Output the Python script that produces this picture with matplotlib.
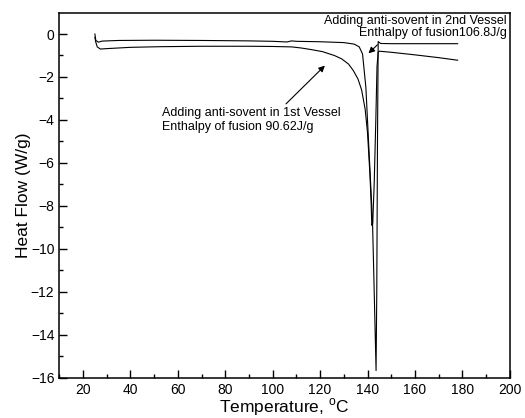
import matplotlib
matplotlib.use('Agg')
import matplotlib.pyplot as plt
from matplotlib.ticker import MultipleLocator

plt.rcParams['font.family'] = ['Liberation Sans', 'DejaVu Sans']

# DSC curve, anti-solvent added in 1st vessel
T1 = [25.0, 25.3, 26.0, 27.3, 30, 40, 52.7, 70, 90, 100, 108, 112, 116, 121,
      126, 129, 132, 134, 136, 137.5, 139, 140, 141, 141.5, 141.8, 142.2,
      142.8, 143.5, 144.0, 144.5, 145, 150, 160, 170, 178]
Y1 = [-0.15, -0.35, -0.6, -0.7, -0.68, -0.62, -0.59, -0.57, -0.57, -0.58,
      -0.6, -0.65, -0.72, -0.82, -1.0, -1.15, -1.4, -1.7, -2.1, -2.6, -3.5,
      -4.6, -6.5, -7.8, -8.9, -8.8, -7.0, -4.0, -1.5, -0.85, -0.8, -0.85,
      -0.97, -1.1, -1.22]

# DSC curve, anti-solvent added in 2nd vessel
T2 = [25.0, 25.4, 26.5, 28, 35, 50, 70, 90, 100, 106, 108, 110, 120, 130,
      134.4, 136.5, 137.9, 139.3, 140.7, 142.1, 143.1, 143.6, 143.9, 144.2,
      144.5, 145.5, 150, 160, 170, 178]
Y2 = [0.0, -0.3, -0.38, -0.33, -0.3, -0.29, -0.3, -0.32, -0.34, -0.37, -0.32,
      -0.34, -0.36, -0.4, -0.47, -0.6, -0.93, -2.48, -5.6, -8.7, -13.3,
      -15.66, -12.0, -5.0, -0.35, -0.44, -0.45, -0.45, -0.45, -0.45]

fig = plt.figure(figsize=(5.25, 4.18), dpi=100)
ax = fig.add_axes([0.113, 0.096, 0.858, 0.872])

ax.plot(T1, Y1, color='black', lw=0.8)
ax.plot(T2, Y2, color='black', lw=0.8)

ax.set_xlim(10, 200)
ax.set_ylim(-16, 0.96)
ax.xaxis.set_major_locator(MultipleLocator(20))
ax.xaxis.set_minor_locator(MultipleLocator(10))
ax.yaxis.set_major_locator(MultipleLocator(2))
ax.yaxis.set_minor_locator(MultipleLocator(1))
ax.tick_params(which='both', direction='in', width=1.0, labelsize=10)
ax.tick_params(which='major', length=5.5)
ax.tick_params(which='minor', length=3)
for s in ax.spines.values():
    s.set_linewidth(1.1)

ax.set_xlabel('Temperature, $^{\\mathregular{o}}$C', fontsize=12.5, labelpad=0)
ax.set_ylabel('Heat Flow (W/g)', fontsize=12.5, labelpad=0)

ax.annotate('Adding anti-sovent in 1st Vessel\nEnthalpy of fusion 90.62J/g',
            xy=(122.0, -1.47), xytext=(53.2, -4.0), fontsize=9,
            ha='left', va='center', linespacing=1.3,
            arrowprops=dict(arrowstyle='-|>', color='black', lw=0.8,
                            mutation_scale=9, shrinkA=0, shrinkB=0,
                            relpos=(0.68, 1.0)))
ax.text(198.7, 0.34, 'Adding anti-sovent in 2nd Vessel\nEnthalpy of fusion106.8J/g',
        fontsize=9, ha='right', va='center', linespacing=1.0,
        multialignment='right')
ax.annotate('', xy=(140.4, -0.9), xytext=(144.2, -0.5),
            arrowprops=dict(arrowstyle='-|>', color='black', lw=0.8,
                            mutation_scale=9, shrinkA=0, shrinkB=0))

fig.savefig('out.png', dpi=100)
